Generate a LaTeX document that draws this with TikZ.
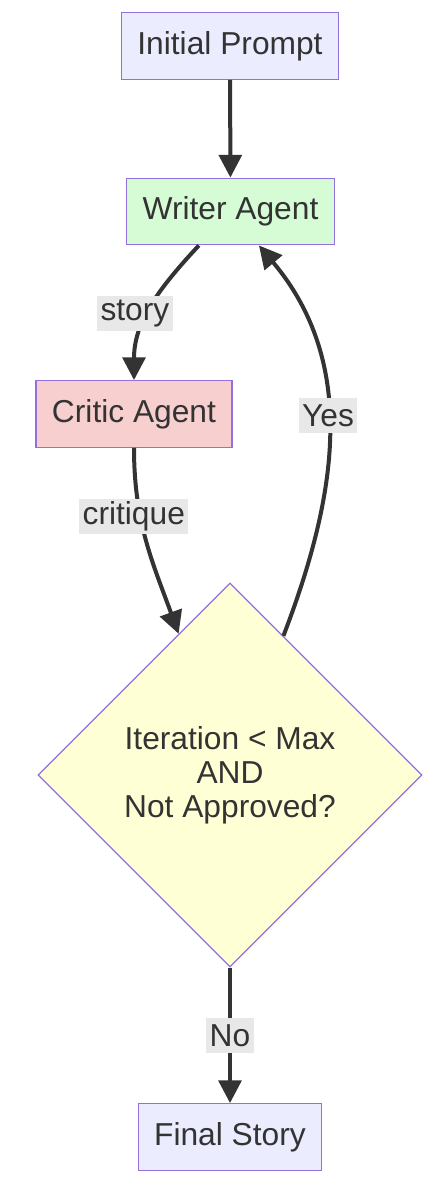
\documentclass[tikz,border=0pt]{standalone}
\usepackage{fontspec}
\setmainfont{Liberation Sans}
\usetikzlibrary{shapes.geometric,arrows.meta}

\definecolor{ink}{HTML}{333333}
\definecolor{rim}{HTML}{9370DB}
\definecolor{boxfill}{HTML}{ECECFF}
\definecolor{writerfill}{HTML}{D5FCD5}
\definecolor{criticfill}{HTML}{F7CFCF}
\definecolor{condfill}{HTML}{FFFFD5}
\definecolor{lblgray}{HTML}{E8E8E8}

\begin{document}
\begin{tikzpicture}[x=0.75pt,y=-0.75pt,
  font=\fontsize{23.8}{25.5}\selectfont, text=ink,
  box/.style={draw=rim, line width=0.9pt, fill=boxfill, minimum height=50pt, inner xsep=12pt},
  cond/.style={diamond, draw=rim, line width=0.9pt, fill=condfill, minimum width=288pt,
    minimum height=288pt, inner sep=0pt, align=center},
  flow/.style={draw=ink, line width=3pt, -{Triangle[length=17pt,width=17pt]}},
  lbl/.style={fill=lblgray, text=ink, inner xsep=2.5pt, inner ysep=0pt, minimum height=26pt}]
  \useasboundingbox (0,0) rectangle (438,1192);

  \node[box] (prompt) at (230,46) {Initial Prompt};
  \node[box, fill=writerfill] (writer) at (230.5,211.5) {Writer Agent};
  \node[box, fill=criticfill] (critic) at (134,414) {Critic Agent};
  \node[cond] (check) at (230,775) {Iteration < Max\\AND\\Not Approved?};
  \node[box] (final) at (230,1137) {Final Story};

  % main loop
  \draw[flow] (prompt) -- (writer);
  \draw[flow] (writer) to[out=-133,in=90] node[lbl, pos=0.55, xshift=-10pt] {story} (critic);
  \draw[flow] (critic) to[out=-90,in=110] node[lbl, pos=0.35, xshift=-5pt] {critique} (check);
  \draw[flow] (check) to[out=69,in=-50] node[lbl, pos=0.54] {Yes} (writer);
  % exit
  \draw[flow] (check) -- node[lbl] {No} (final);
\end{tikzpicture}
\end{document}
